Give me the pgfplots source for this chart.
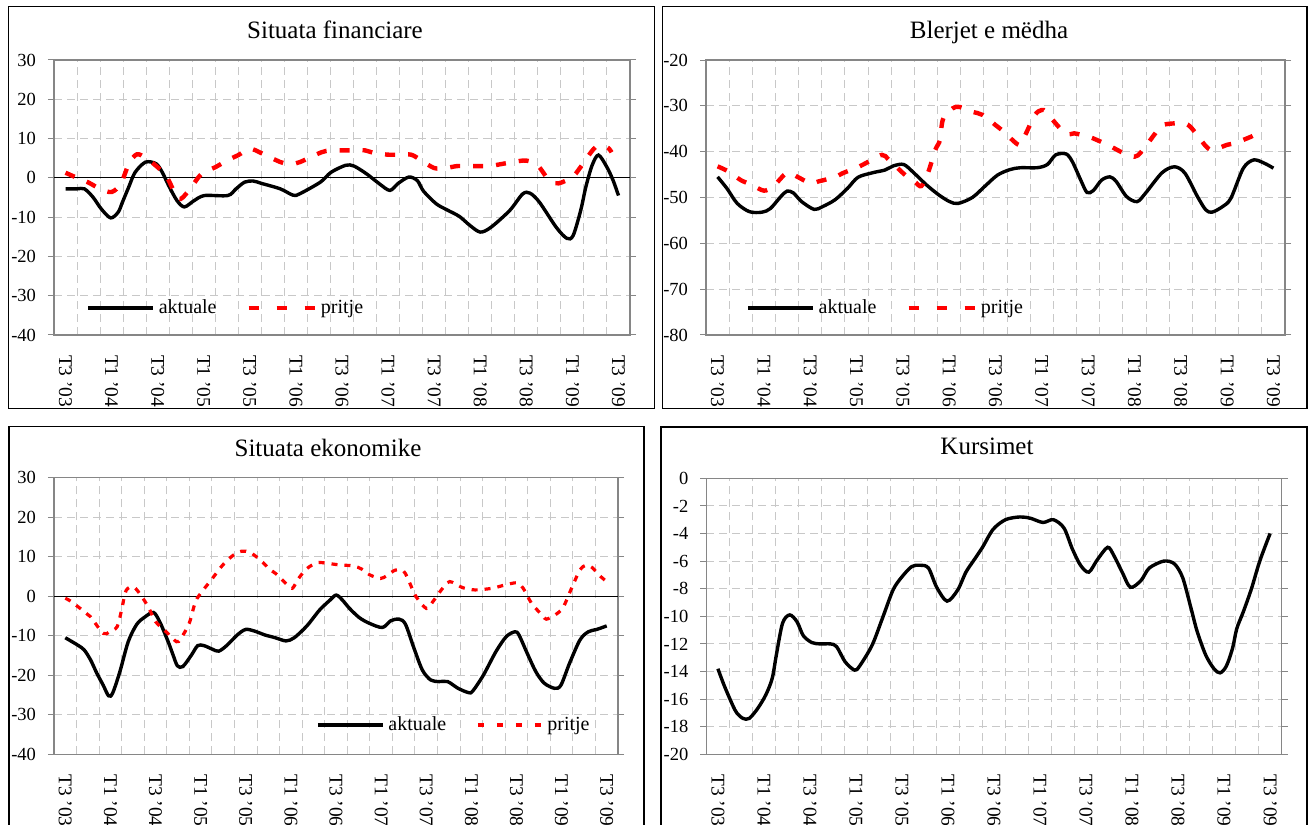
\documentclass[border=0pt]{standalone}
\usepackage{fontspec}
\setmainfont{Liberation Serif}
\usepackage{pgfplots}
\pgfplotsset{compat=1.18}
\definecolor{gridc}{RGB}{200,200,200}
\definecolor{framec}{RGB}{134,134,134}
\definecolor{redd}{RGB}{255,0,0}
\newcommand{\tickfont}{\fontsize{9.25bp}{11bp}\selectfont}
\newcommand{\xtickfont}{\fontsize{9.7bp}{11bp}\selectfont}
\newcommand{\legfont}{\fontsize{10bp}{12bp}\selectfont}
\newcommand{\titlefont}{\fontsize{12.5bp}{14bp}\selectfont}
\pgfplotsset{
 panel/.style={
  scale only axis,
  anchor=south west,
  xmin=-0.5, xmax=24.5,
  xtick={0,2,...,24},
  xticklabels={T3 '03,T1 '04,T3 '04,T1 '05,T3 '05,T1 '06,T3 '06,T1 '07,T3 '07,T1 '08,T3 '08,T1 '09,T3 '09},
  minor xtick={0.5,1.5,...,23.5},
  xminorgrids=true, xmajorgrids=false, ymajorgrids=true,
  major grid style={gridc, dash pattern=on 4bp off 2.5bp, line width=0.5bp},
  minor grid style={gridc, dash pattern=on 4bp off 2.5bp, line width=0.5bp},
  axis line style={framec, line width=0.6bp},
  tick align=outside,
  major tick length=3bp,
  xtick style={draw=none},
  minor x tick style={draw=none},
  ytick style={framec, line width=0.5bp},
  tick label style={font=\tickfont},
  xticklabel style={rotate=-90, anchor=west, font=\xtickfont},
  xticklabel shift=3.5bp,
  yticklabel style={anchor=east, xshift=-2.5bp},
  legend columns=2,
  legend cell align=left,
  legend style={draw=none, fill=none, inner sep=0pt, font=\legfont,
    /tikz/every even column/.append style={column sep=13bp}},
  legend image code/.code={\draw[#1] (0bp,0bp) -- (32.5bp,0bp);},
 },
 akt/.style={black, line width=1.7bp, smooth, tension=0.5},
}
\begin{document}
\begin{tikzpicture}
\path[use as bounding box] (0,0) rectangle (655bp,412.5bp);
\draw[line width=0.75bp] (4.15bp,208.35bp) rectangle (327.25bp,409.15bp);
\draw[line width=0.75bp] (331.25bp,208.35bp) rectangle (653.5bp,409.15bp);
\draw[line width=0.75bp] (4.5bp,-10bp) rectangle (322bp,199.15bp);
\draw[line width=0.75bp] (330.5bp,-10bp) rectangle (653.5bp,199bp);

\node[anchor=base, font=\titlefont] at (167.5bp,393.35bp) {Situata financiare};
\node[anchor=base, font=\titlefont] at (494.5bp,393.35bp) {Blerjet e mëdha};
\node[anchor=base, font=\titlefont] at (164bp,184.15bp) {Situata ekonomike};
\node[anchor=base, font=\titlefont] at (493.5bp,185bp) {Kursimet};

% Panel 1
\begin{axis}[panel, at={(27bp,245bp)}, width=288bp, height=137.5bp,
  ymin=-40, ymax=30, ytick={-40,-30,...,30},
  yticklabels={-40,-30,-20,-10,0,10,20,30},
  legend style={at={(axis description cs:0.0556,0.098)}, anchor=west}]
\draw[black, line width=0.5bp] (axis cs:-0.5,0) -- (axis cs:24.5,0);
\addplot[akt] coordinates {
(0,-2.8) (0.5,-2.8) (0.82,-2.8) (1.19,-4.9) (1.55,-7.9) (1.96,-10.2) (2.29,-8.7) (2.47,-6.2) (2.74,-2.4) (3.02,1.4) (3.47,4.0) (3.93,3.6) (4.2,1.4) (4.48,-2.0) (4.84,-5.8) (5.16,-7.4) (5.58,-5.8) (6.03,-4.5) (7.04,-4.5) (7.4,-2.8) (7.77,-1.1) (8.14,-0.8) (8.5,-1.4) (9.32,-2.8) (9.87,-4.4) (10.15,-4.1) (11.06,-1.1) (11.52,1.4) (12.16,3.2) (12.52,3.0) (13.07,1.0) (13.62,-1.5) (14.08,-3.2) (14.44,-1.4) (14.9,0.2) (15.27,-0.7) (15.54,-3.4) (16.09,-6.6) (16.54,-8.1) (17.09,-9.8) (17.55,-12.1) (18.0,-13.8) (18.46,-12.6) (19.28,-8.3) (19.84,-4.1) (20.16,-3.9) (20.57,-6.2) (21.3,-12.6) (21.76,-15.4) (22.03,-14.7) (22.36,-8.3) (22.58,-2.4) (22.85,3.1) (23.13,5.8) (23.5,2.7) (23.77,-0.7) (24,-4.5)
};
\addlegendentry{aktuale}
\addplot[redd, line width=2.2bp, dash pattern=on 5bp off 6.5bp, smooth, tension=0.5,
  legend image code/.code={\draw[redd, line width=2.2bp, dash pattern=on 5bp off 9bp] (0bp,0bp) -- (33bp,0bp);}] coordinates {
(0,1.3) (0.5,0.0) (1,-1.2) (1.5,-2.8) (2,-3.6) (2.4,-1.5) (2.75,3.6) (3.1,6.0) (3.5,5.0) (4,2.7) (4.4,0.2) (4.9,-5.3) (5.3,-3.6) (5.9,1.0) (6.5,2.7) (7.0,4.4) (7.5,5.8) (8.0,7.4) (8.5,6.3) (9.1,4.6) (9.5,3.7) (10.0,3.7) (10.4,4.6) (11.1,6.5) (11.5,7.0) (12,7.0) (12.5,7.0) (13,7.0) (13.4,6.3) (14,5.9) (14.5,5.9) (15,5.9) (15.4,4.6) (16,2.5) (16.5,2.5) (17,3.0) (17.5,3.0) (18,3.0) (18.4,3.0) (19,3.6) (19.4,4.0) (20,4.4) (20.5,3.1) (21,-0.7) (21.4,-1.4) (22,0.2) (22.3,2.3) (23,7.8) (23.5,7.8) (23.7,6.5)
};
\addlegendentry{pritje}
\end{axis}

% Panel 2
\begin{axis}[panel, at={(353bp,245bp)}, width=289.5bp, height=137.5bp,
  ymin=-80, ymax=-20, ytick={-80,-70,...,-20},
  yticklabels={-80,-70,-60,-50,-40,-30,-20},
  legend style={at={(axis description cs:0.069,0.098)}, anchor=west}]
\addplot[akt] coordinates {
(0,-45.5) (0.4,-48.0) (0.85,-51.3) (1.38,-53.1) (1.92,-53.2) (2.28,-52.4) (2.73,-49.8) (3.0,-48.6) (3.27,-49.0) (3.63,-50.9) (4.17,-52.6) (4.53,-52.0) (5.07,-50.5) (5.61,-48.0) (6.06,-45.6) (6.69,-44.6) (7.23,-44.0) (7.59,-43.1) (8.04,-42.8) (8.49,-44.7) (9.03,-47.3) (9.57,-49.5) (10.02,-50.9) (10.38,-51.3) (11.0,-50.0) (11.55,-47.5) (12.09,-45.1) (12.63,-43.9) (13.08,-43.5) (13.8,-43.5) (14.24,-42.8) (14.6,-40.7) (15.05,-40.5) (15.32,-42.2) (15.68,-46.2) (15.95,-48.9) (16.22,-48.5) (16.58,-46.2) (16.94,-45.5) (17.21,-46.5) (17.66,-49.8) (18.11,-50.9) (18.47,-49.1) (19.19,-44.6) (19.73,-43.3) (20.18,-44.7) (20.72,-49.8) (21.08,-52.7) (21.35,-53.2) (21.8,-52.0) (22.16,-50.2) (22.7,-43.6) (23.15,-41.8) (23.6,-42.5) (24,-43.6)
};
\addlegendentry{aktuale}
\addplot[redd, line width=2.2bp, dash pattern=on 5bp off 6.5bp, smooth, tension=0.5,
  legend image code/.code={\draw[redd, line width=2.2bp, dash pattern=on 5bp off 9bp] (0bp,0bp) -- (33bp,0bp);}] coordinates {
(0,-43.2) (0.5,-44.4) (1,-46.2) (1.5,-47.3) (2,-48.5) (2.4,-47.6) (3,-44.6) (3.45,-45.5) (4,-46.9) (4.35,-46.5) (5.1,-45.5) (5.4,-44.7) (6.1,-43.3) (6.4,-42.5) (7.1,-40.7) (7.4,-41.8) (8.1,-45.1) (8.5,-46.5) (8.8,-47.5) (9.1,-44.4) (9.4,-39.6) (9.6,-37.5) (9.75,-32.7) (10.3,-30.2) (11,-31.3) (11.45,-32) (12,-34.2) (12.35,-35.6) (13,-38.5) (13.25,-36.7) (13.7,-32) (14,-30.9) (14.2,-31.5) (15,-36) (15.4,-36) (16,-36.7) (16.4,-37.5) (17,-38.9) (17.4,-40) (18,-41.1) (18.3,-40) (18.9,-36) (19.2,-34.2) (20,-33.8) (20.4,-34.5) (21.1,-38.9) (21.4,-39.6) (22,-38.5) (22.3,-38.2) (23.05,-36.7) (23.3,-36)
};
\addlegendentry{pritje}
\end{axis}

% Panel 3
\begin{axis}[panel, at={(27bp,35.35bp)}, width=282bp, height=138.3bp,
  ymin=-40, ymax=30, ytick={-40,-30,...,30},
  yticklabels={-40,-30,-20,-10,0,10,20,30},
  legend style={at={(axis description cs:0.464,0.106)}, anchor=west}]
\draw[black, line width=0.5bp] (axis cs:-0.5,0) -- (axis cs:24.5,0);
\addplot[akt] coordinates {
(0,-10.5) (0.56,-12.4) (0.84,-13.6) (1.12,-16.1) (1.4,-19.5) (1.68,-22.5) (1.92,-25.2) (2.1,-24.5) (2.42,-19.1) (2.79,-11.5) (3.17,-7.1) (3.54,-5.2) (3.91,-4.1) (4.19,-6.5) (4.56,-11.5) (4.78,-14.9) (4.97,-17.6) (5.21,-17.8) (5.59,-14.9) (5.87,-12.5) (6.15,-12.5) (6.52,-13.4) (6.8,-13.9) (7.17,-12.4) (7.64,-9.7) (8.0,-8.4) (8.38,-8.8) (8.85,-9.8) (9.31,-10.5) (9.78,-11.3) (10.15,-10.5) (10.71,-7.5) (11.27,-3.5) (11.73,-1.0) (12.01,0.3) (12.29,-1.0) (12.57,-2.9) (13.03,-5.4) (13.5,-6.9) (14.06,-7.9) (14.43,-6.2) (14.8,-5.8) (15.08,-7.1) (15.46,-13.2) (15.83,-18.7) (16.2,-21.2) (16.57,-21.6) (16.95,-21.6) (17.41,-23.3) (17.88,-24.4) (18.06,-24.0) (18.53,-20.0) (19.09,-14.0) (19.55,-10.2) (19.93,-9.0) (20.11,-9.8) (20.48,-14.5) (20.86,-19.1) (21.23,-22.0) (21.69,-23.3) (21.97,-22.5) (22.35,-17.0) (22.81,-11.1) (23.18,-9.0) (23.56,-8.4) (24,-7.5)
};
\addlegendentry{aktuale}
\addplot[redd, line width=1.6bp, dash pattern=on 3bp off 3.5bp, smooth, tension=0.5,
  legend image code/.code={\draw[redd, line width=1.6bp, dash pattern=on 3bp off 6.5bp] (0bp,0bp) -- (32bp,0bp);}] coordinates {
(0,-0.5) (0.28,-1.4) (0.84,-3.9) (1.12,-5.2) (1.68,-9.4) (1.96,-9.0) (2.3,-7.7) (2.51,-3.1) (2.7,1.5) (3.07,2.2) (3.63,-2.2) (4.0,-6.4) (4.47,-9.0) (4.93,-11.5) (5.12,-10.7) (5.49,-6.9) (5.77,-1.4) (6.05,1.1) (6.52,4.5) (6.98,7.9) (7.45,10.4) (7.82,11.4) (8.19,11.1) (8.66,9.1) (9.03,7.0) (9.4,5.4) (9.78,3.2) (10.06,2.0) (10.34,4.5) (10.71,7.0) (11.17,8.5) (11.64,8.3) (12.2,7.9) (12.76,7.7) (13.13,6.9) (13.5,5.4) (13.97,4.5) (14.25,5.2) (14.62,6.6) (14.99,6.4) (15.18,4.5) (15.55,-0.1) (16.01,-3.1) (16.29,-1.4) (16.67,1.6) (17.04,3.7) (17.6,2.2) (18.16,1.6) (18.9,2.0) (19.46,2.8) (20.02,3.4) (20.3,2.0) (20.67,-1.8) (21.14,-4.8) (21.32,-5.8) (21.69,-4.8) (22.06,-2.9) (22.44,2.0) (22.81,6.6) (23.09,7.9) (23.37,7.2) (23.65,5.4) (24,3.7)
};
\addlegendentry{pritje}
\end{axis}

% Panel 4
\begin{axis}[panel, at={(353.2bp,35.35bp)}, width=287.6bp, height=138bp,
  ymin=-20, ymax=0, ytick={-20,-18,...,0},
  yticklabels={-20,-18,-16,-14,-12,-10,-8,-6,-4,-2,0}]
\addplot[akt] coordinates {
(0,-13.8) (0.27,-15.0) (0.63,-16.4) (0.82,-17.0) (1.09,-17.4) (1.36,-17.4) (1.72,-16.7) (2.08,-15.7) (2.36,-14.5) (2.54,-12.8) (2.81,-10.5) (3.12,-9.9) (3.44,-10.4) (3.71,-11.4) (4.08,-11.9) (4.44,-12.0) (4.89,-12.0) (5.16,-12.2) (5.53,-13.3) (5.94,-13.9) (6.16,-13.6) (6.7,-12.1) (7.16,-10.1) (7.61,-8.1) (7.97,-7.2) (8.42,-6.4) (8.79,-6.3) (9.15,-6.5) (9.51,-7.9) (9.96,-8.9) (10.42,-8.1) (10.78,-6.8) (11.14,-5.9) (11.5,-5.0) (11.96,-3.7) (12.5,-3.0) (13.13,-2.8) (13.59,-2.9) (14.13,-3.2) (14.58,-3.0) (15.04,-3.6) (15.4,-5.1) (15.76,-6.3) (16.12,-6.8) (16.49,-5.9) (16.94,-5.0) (17.21,-5.6) (17.57,-6.8) (17.93,-7.9) (18.39,-7.4) (18.75,-6.5) (19.38,-6.0) (19.84,-6.2) (20.2,-7.2) (20.56,-9.4) (20.83,-11.1) (21.2,-12.8) (21.56,-13.8) (21.83,-14.1) (22.1,-13.6) (22.37,-12.3) (22.55,-10.9) (22.83,-9.7) (23.19,-8.0) (23.55,-6.0) (24,-4.0)
};
\end{axis}
\end{tikzpicture}
\end{document}
